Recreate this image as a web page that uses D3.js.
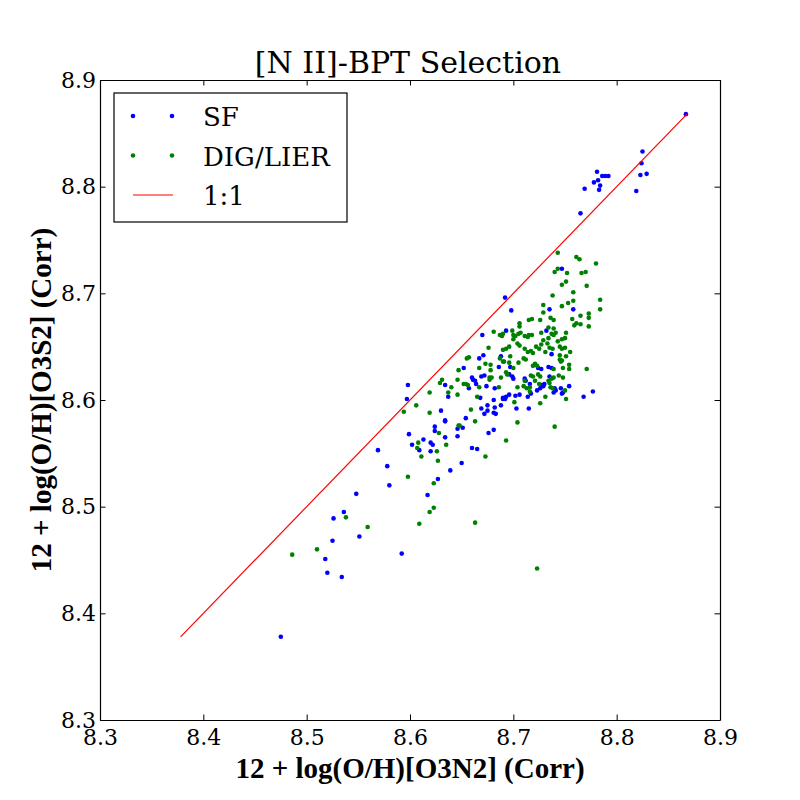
<!DOCTYPE html>
<html>
<head>
<meta charset="utf-8">
<script src="https://cdn.jsdelivr.net/npm/d3@7"></script>
<style>
  html, body { margin: 0; padding: 0; background: #ffffff; }
  text { font-family: "DejaVu Serif", serif; fill: #000; }
</style>
</head>
<body>
<div id="chart"></div>
<script>
// SF spaxels: O3N2 metallicity (x) vs O3S2 metallicity (y)
const sfX = [
  8.867, 8.825, 8.824, 8.823, 8.829, 8.819, 8.781, 8.786, 8.789, 8.792, 8.778, 8.782, 8.784, 8.783, 8.769, 8.765,
  8.475, 8.518, 8.520, 8.534, 8.525, 8.526, 8.536, 8.551, 8.548, 8.569, 8.578, 8.580, 8.592, 8.617, 8.627, 8.639,
  8.599, 8.602, 8.609, 8.613, 8.620, 8.622, 8.620, 8.624, 8.624, 8.634, 8.634, 8.646, 8.646, 8.660, 8.665, 8.650,
  8.676, 8.681, 8.598, 8.597, 8.630, 8.634, 8.634, 8.637, 8.652, 8.657, 8.660, 8.661, 8.663, 8.664, 8.668, 8.667,
  8.671, 8.669, 8.672, 8.674, 8.682, 8.686, 8.688, 8.669, 8.675, 8.675, 8.672, 8.681, 8.682, 8.681, 8.683, 8.688,
  8.690, 8.654, 8.651, 8.670, 8.697, 8.696, 8.699, 8.700, 8.711, 8.712, 8.724, 8.727, 8.734, 8.737, 8.737, 8.735,
  8.730, 8.729, 8.727, 8.726, 8.723, 8.716, 8.717, 8.706, 8.702, 8.696, 8.693, 8.690, 8.692, 8.714, 8.703, 8.715,
  8.740, 8.741, 8.739, 8.746, 8.748, 8.747, 8.754, 8.768, 8.777, 8.747, 8.735, 8.758, 8.692, 8.698, 8.693, 8.732
];
const sfY = [
  8.868, 8.833, 8.822, 8.811, 8.812, 8.796, 8.814, 8.810, 8.810, 8.810, 8.804, 8.806, 8.801, 8.797, 8.798, 8.775,
  8.378, 8.451, 8.438, 8.434, 8.468, 8.489, 8.495, 8.472, 8.512, 8.553, 8.538, 8.520, 8.456, 8.511, 8.526, 8.534,
  8.568, 8.558, 8.553, 8.563, 8.560, 8.558, 8.552, 8.575, 8.571, 8.565, 8.580, 8.573, 8.566, 8.555, 8.554, 8.541,
  8.569, 8.572, 8.614, 8.601, 8.590, 8.581, 8.614, 8.603, 8.630, 8.611, 8.621, 8.619, 8.618, 8.615, 8.602, 8.639,
  8.642, 8.622, 8.623, 8.613, 8.611, 8.631, 8.641, 8.592, 8.595, 8.590, 8.587, 8.600, 8.593, 8.588, 8.587, 8.595,
  8.601, 8.583, 8.574, 8.661, 8.631, 8.624, 8.622, 8.620, 8.620, 8.618, 8.630, 8.629, 8.631, 8.630, 8.643, 8.622,
  8.615, 8.613, 8.614, 8.611, 8.609, 8.615, 8.606, 8.605, 8.604, 8.605, 8.603, 8.602, 8.601, 8.603, 8.592, 8.592,
  8.611, 8.609, 8.607, 8.611, 8.607, 8.606, 8.613, 8.603, 8.608, 8.723, 8.685, 8.685, 8.696, 8.684, 8.665, 8.665
];

// DIG/LIER spaxels
const digX = [
  8.486, 8.510, 8.538, 8.559, 8.598, 8.623, 8.623, 8.619, 8.609, 8.608, 8.607, 8.611, 8.626, 8.627, 8.628, 8.635,
  8.647, 8.673, 8.693, 8.663, 8.723, 8.594, 8.606, 8.619, 8.619, 8.629, 8.631, 8.637, 8.640, 8.646, 8.646, 8.647,
  8.652, 8.654, 8.656, 8.655, 8.657, 8.667, 8.665, 8.667, 8.673, 8.676, 8.677, 8.677, 8.679, 8.678, 8.678, 8.686,
  8.688, 8.687, 8.691, 8.690, 8.659, 8.663, 8.648, 8.681, 8.689, 8.700, 8.702, 8.704, 8.706, 8.714, 8.696, 8.693,
  8.711, 8.714, 8.717, 8.719, 8.722, 8.725, 8.727, 8.729, 8.734, 8.733, 8.735, 8.738, 8.731, 8.739, 8.743, 8.745,
  8.747, 8.750, 8.747, 8.750, 8.755, 8.745, 8.751, 8.747, 8.745, 8.697, 8.696, 8.690, 8.710, 8.712, 8.705, 8.721,
  8.719, 8.723, 8.700, 8.693, 8.694, 8.711, 8.717, 8.719, 8.724, 8.726, 8.721, 8.739, 8.746, 8.748, 8.754, 8.754,
  8.771, 8.737, 8.739, 8.744, 8.748, 8.734, 8.735, 8.736, 8.738, 8.725, 8.716, 8.716, 8.713, 8.710, 8.704, 8.701,
  8.726, 8.731, 8.750, 8.751, 8.704, 8.740, 8.743, 8.761, 8.764, 8.780, 8.743, 8.740, 8.752, 8.766, 8.770, 8.751,
  8.747, 8.771, 8.738, 8.758, 8.758, 8.753, 8.747, 8.729, 8.729, 8.784, 8.784, 8.773, 8.773, 8.765, 8.757, 8.761,
  8.759, 8.765, 8.773, 8.736, 8.739, 8.726, 8.715, 8.718, 8.706, 8.706, 8.699, 8.700, 8.734, 8.739, 8.741, 8.737,
  8.727, 8.751, 8.715, 8.718, 8.711, 8.690, 8.705, 8.707, 8.687
];
const digY = [
  8.455, 8.460, 8.490, 8.481, 8.528, 8.522, 8.499, 8.495, 8.484, 8.560, 8.555, 8.547, 8.552, 8.543, 8.569, 8.558,
  8.576, 8.547, 8.562, 8.485, 8.442, 8.589, 8.595, 8.607, 8.588, 8.616, 8.619, 8.607, 8.612, 8.605, 8.619, 8.628,
  8.615, 8.615, 8.614, 8.639, 8.640, 8.612, 8.603, 8.630, 8.634, 8.649, 8.621, 8.619, 8.621, 8.628, 8.633, 8.612,
  8.621, 8.639, 8.636, 8.647, 8.591, 8.580, 8.576, 8.664, 8.660, 8.657, 8.660, 8.653, 8.651, 8.659, 8.650, 8.648,
  8.648, 8.645, 8.646, 8.644, 8.650, 8.648, 8.652, 8.656, 8.658, 8.653, 8.649, 8.648, 8.645, 8.661, 8.655, 8.650,
  8.657, 8.658, 8.648, 8.649, 8.645, 8.642, 8.641, 8.637, 8.638, 8.641, 8.635, 8.636, 8.639, 8.638, 8.635, 8.634,
  8.632, 8.632, 8.630, 8.626, 8.624, 8.618, 8.623, 8.622, 8.624, 8.622, 8.618, 8.629, 8.636, 8.630, 8.633, 8.629,
  8.629, 8.620, 8.621, 8.623, 8.621, 8.618, 8.616, 8.612, 8.611, 8.615, 8.612, 8.608, 8.611, 8.613, 8.612, 8.598,
  8.597, 8.603, 8.609, 8.601, 8.579, 8.575, 8.738, 8.734, 8.732, 8.728, 8.723, 8.720, 8.719, 8.719, 8.720, 8.711,
  8.708, 8.707, 8.698, 8.701, 8.693, 8.691, 8.688, 8.689, 8.682, 8.694, 8.685, 8.681, 8.677, 8.679, 8.676, 8.672,
  8.670, 8.671, 8.669, 8.677, 8.675, 8.675, 8.675, 8.676, 8.672, 8.669, 8.665, 8.661, 8.668, 8.667, 8.663, 8.662,
  8.663, 8.663, 8.661, 8.661, 8.660, 8.662, 8.662, 8.663, 8.661
];

const xTicks = [8.3, 8.4, 8.5, 8.6, 8.7, 8.8, 8.9];
const yTicks = [8.3, 8.4, 8.5, 8.6, 8.7, 8.8, 8.9];

const width = 800;
const height = 800;
const margin = { top: 80, right: 80, bottom: 80, left: 100 };
const tickLen = 5.5;
const serif = '"DejaVu Serif", serif';
const serifBold = '"Liberation Serif", "DejaVu Serif", serif';

const svg = d3.select("#chart")
    .append("svg")
    .attr("width", width)
    .attr("height", height);

svg.append("rect")
    .attr("width", width)
    .attr("height", height)
    .attr("fill", "#ffffff");

const x = d3.scaleLinear()
    .domain([8.3, 8.9])
    .range([margin.left, width - margin.right]);

const y = d3.scaleLinear()
    .domain([8.3, 8.9])
    .range([height - margin.bottom, margin.top]);

// scatter: SF first, DIG/LIER on top
const sf = sfX.map((v, i) => ({ x: v, y: sfY[i] }));
const dig = digX.map((v, i) => ({ x: v, y: digY[i] }));

svg.append("g")
    .selectAll("circle")
    .data(sf)
    .enter()
    .append("circle")
    .attr("cx", d => x(d.x))
    .attr("cy", d => y(d.y))
    .attr("r", 2.3)
    .attr("fill", "#0000ff");

svg.append("g")
    .selectAll("circle")
    .data(dig)
    .enter()
    .append("circle")
    .attr("cx", d => x(d.x))
    .attr("cy", d => y(d.y))
    .attr("r", 2.3)
    .attr("fill", "#008000");

// 1:1 line spans the full range of the data
const ext = d3.extent(sfX.concat(sfY, digX, digY));
svg.append("line")
    .attr("x1", x(ext[0]))
    .attr("y1", y(ext[0]))
    .attr("x2", x(ext[1]))
    .attr("y2", y(ext[1]))
    .attr("stroke", "#ff0000")
    .attr("stroke-width", 1.2);

// axes: ticks point inward on all four sides
const fmt = d3.format(".1f");

svg.append("g")
    .attr("transform", `translate(0,${height - margin.bottom})`)
    .call(d3.axisBottom(x).tickValues(xTicks).tickFormat(fmt)
        .tickSizeInner(-tickLen).tickSizeOuter(0).tickPadding(9));

svg.append("g")
    .attr("transform", `translate(${margin.left},0)`)
    .call(d3.axisLeft(y).tickValues(yTicks).tickFormat(fmt)
        .tickSizeInner(-tickLen).tickSizeOuter(0).tickPadding(4));

svg.append("g")
    .attr("transform", `translate(0,${margin.top})`)
    .call(d3.axisTop(x).tickValues(xTicks).tickFormat("")
        .tickSizeInner(-tickLen).tickSizeOuter(0));

svg.append("g")
    .attr("transform", `translate(${width - margin.right},0)`)
    .call(d3.axisRight(y).tickValues(yTicks).tickFormat("")
        .tickSizeInner(-tickLen).tickSizeOuter(0));

svg.selectAll("g").attr("font-family", null);
svg.selectAll(".domain").attr("stroke", "#000").attr("stroke-width", 1.2);
svg.selectAll(".tick line").attr("stroke", "#000").attr("stroke-width", 1);
svg.selectAll(".tick text")
    .style("font-family", serif)
    .style("font-size", "22px");

// title and axis labels
svg.append("text")
    .attr("x", 408)
    .attr("y", 73)
    .attr("text-anchor", "middle")
    .style("font-family", serif)
    .style("font-size", "30px")
    .text("[N II]-BPT Selection");

svg.append("text")
    .attr("x", 410)
    .attr("y", 778)
    .attr("text-anchor", "middle")
    .style("font-family", serifBold)
    .style("font-size", "29px")
    .style("font-weight", "bold")
    .text("12 + log(O/H)[O3N2] (Corr)");

svg.append("text")
    .attr("transform", "translate(51,400) rotate(-90)")
    .attr("text-anchor", "middle")
    .style("font-family", serifBold)
    .style("font-size", "29px")
    .style("font-weight", "bold")
    .text("12 + log(O/H)[O3S2] (Corr)");

// legend
const legend = svg.append("g")
    .attr("class", "legend");

legend.append("rect")
    .attr("x", 114)
    .attr("y", 93)
    .attr("width", 233)
    .attr("height", 129)
    .attr("fill", "#ffffff")
    .attr("stroke", "#000")
    .attr("stroke-width", 1.2);

const legendItems = [
    { label: "SF", color: "#0000ff", kind: "dot" },
    { label: "DIG/LIER", color: "#008000", kind: "dot" },
    { label: "1:1", color: "#ff0000", kind: "line" }
];

legendItems.forEach((item, i) => {
    const g = legend.append("g")
        .attr("transform", `translate(0, ${116 + i * 39.5})`);

    if (item.kind === "dot") {
        [133, 172].forEach(cx => {
            g.append("circle")
                .attr("cx", cx)
                .attr("cy", 0)
                .attr("r", 2.3)
                .attr("fill", item.color);
        });
    } else {
        g.append("line")
            .attr("x1", 133)
            .attr("x2", 173)
            .attr("y1", 0)
            .attr("y2", 0)
            .attr("stroke", item.color)
            .attr("stroke-width", 1.2);
    }

    g.append("text")
        .attr("x", 203)
        .attr("y", 10)
        .style("font-family", serif)
        .style("font-size", "26px")
        .text(item.label);
});
</script>
</body>
</html>
